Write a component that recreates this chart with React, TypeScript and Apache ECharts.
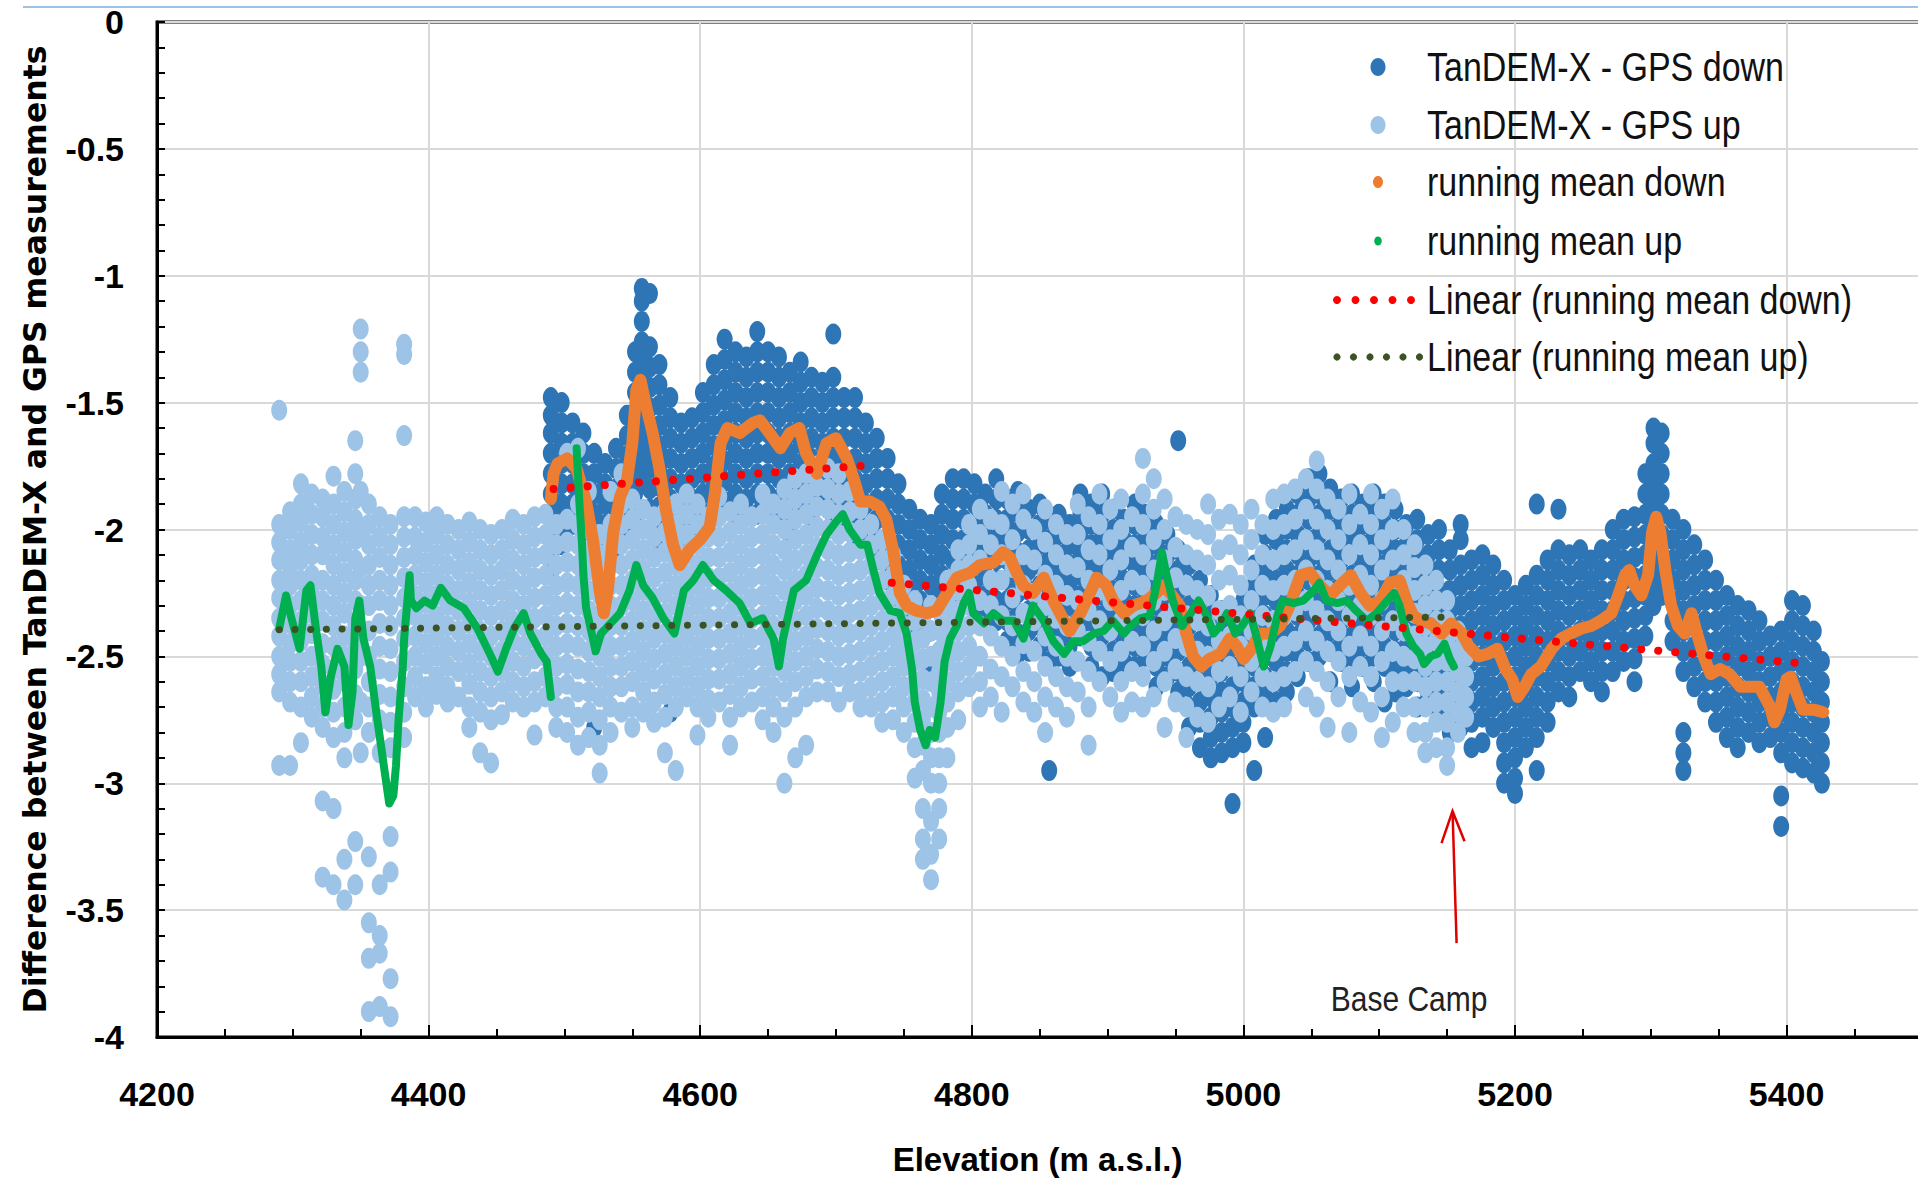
import React, { useEffect, useRef } from "react";
import * as echarts from "echarts";

// ---------- axes ----------
const X_MIN = 4200;
const X_MAX = 5600;
const X_STEP = 200;
const Y_MIN = -4;
const Y_MAX = 0;
const Y_STEP = 0.5;

const X_TITLE = "Elevation (m a.s.l.)";
const Y_TITLE = "Difference between TanDEM-X and GPS measurements";

const NAMES = [
  "TanDEM-X - GPS down",
  "TanDEM-X - GPS up",
  "running mean down",
  "running mean up",
  "Linear (running mean down)",
  "Linear (running mean up)",
];

// ---------- TanDEM-X - GPS down: [elevation, [differences at that elevation]] ----------
const downCols: [number, number[]][] = [
  [4490, [-1.48, -1.55, -1.62, -1.7, -1.78, -1.86, -1.94, -2.02, -2.1, -2.17]],
  [4498, [-1.5, -1.58, -1.66, -1.74, -1.82, -1.9, -1.98, -2.06]],
  [4506, [-1.58, -1.66, -1.74, -1.82, -1.9, -1.98]],
  [4514, [-1.62, -1.7, -1.78, -1.86, -1.94, -2.02]],
  [4522, [-1.7, -1.78, -1.86, -1.94, -2.02, -2.1, -2.78]],
  [4530, [-1.74, -1.82, -1.9, -1.98, -2.06]],
  [4538, [-1.68, -1.76, -1.84, -1.92, -2.0, -2.08]],
  [4546, [-1.55, -1.63, -1.71, -1.79, -1.87, -1.95, -2.03]],
  [4552, [-1.3, -1.38, -1.46, -1.54, -1.62, -1.7, -1.78, -1.86, -1.94]],
  [4557, [-1.05, -1.1, -1.18, -1.26, -1.34, -1.42, -1.5, -1.58, -1.66, -1.74, -1.82]],
  [4563, [-1.07, -1.28, -1.36, -1.44, -1.52, -1.6, -1.68, -1.76, -1.84, -1.92]],
  [4570, [-1.35, -1.43, -1.51, -1.59, -1.67, -1.75, -1.83, -1.91, -1.99, -2.06]],
  [4578, [-1.48, -1.56, -1.64, -1.72, -1.8, -1.88, -1.96, -2.04, -2.72]],
  [4586, [-1.58, -1.66, -1.74, -1.82, -1.9, -1.98, -2.06]],
  [4594, [-1.56, -1.64, -1.72, -1.8, -1.88, -1.96, -2.04]],
  [4602, [-1.46, -1.54, -1.62, -1.7, -1.78, -1.86, -1.94]],
  [4610, [-1.35, -1.43, -1.51, -1.59, -1.67, -1.75, -1.83, -1.91]],
  [4618, [-1.25, -1.33, -1.41, -1.49, -1.57, -1.65, -1.73, -1.81, -1.89]],
  [4626, [-1.3, -1.38, -1.46, -1.54, -1.62, -1.7, -1.78, -1.86, -1.94]],
  [4634, [-1.32, -1.4, -1.48, -1.56, -1.64, -1.72, -1.8, -1.88]],
  [4642, [-1.22, -1.3, -1.38, -1.46, -1.54, -1.62, -1.7, -1.78, -1.86, -1.94]],
  [4650, [-1.3, -1.38, -1.46, -1.54, -1.62, -1.7, -1.78, -1.86, -1.94]],
  [4658, [-1.32, -1.4, -1.48, -1.56, -1.64, -1.72, -1.8, -1.88, -1.96]],
  [4666, [-1.38, -1.46, -1.54, -1.62, -1.7, -1.78, -1.86, -1.94, -2.02]],
  [4674, [-1.34, -1.42, -1.5, -1.58, -1.66, -1.74, -1.82, -1.9]],
  [4682, [-1.4, -1.48, -1.56, -1.64, -1.72, -1.8, -1.88, -1.96]],
  [4690, [-1.42, -1.5, -1.58, -1.66, -1.74, -1.82, -1.9]],
  [4698, [-1.23, -1.4, -1.48, -1.56, -1.64, -1.72, -1.8, -1.88, -1.96]],
  [4706, [-1.48, -1.56, -1.64, -1.72, -1.8, -1.88, -1.96]],
  [4714, [-1.48, -1.56, -1.64, -1.72, -1.8, -1.88, -1.96, -2.04]],
  [4722, [-1.58, -1.66, -1.74, -1.82, -1.9, -1.98, -2.06]],
  [4730, [-1.64, -1.72, -1.8, -1.88, -1.96, -2.04, -2.12]],
  [4738, [-1.72, -1.8, -1.88, -1.96, -2.04, -2.12, -2.2]],
  [4746, [-1.82, -1.9, -1.98, -2.06, -2.14, -2.22, -2.3]],
  [4754, [-1.92, -2.0, -2.08, -2.16, -2.24, -2.32, -2.4]],
  [4762, [-1.96, -2.04, -2.12, -2.2, -2.28, -2.36]],
  [4770, [-1.98, -2.06, -2.14, -2.22, -2.3, -2.4, -2.55]],
  [4778, [-1.86, -1.94, -2.02, -2.1, -2.18, -2.26, -2.34]],
  [4786, [-1.8, -1.88, -1.96, -2.04, -2.12, -2.2, -2.28]],
  [4794, [-1.8, -1.88, -1.96, -2.04, -2.12, -2.2]],
  [4802, [-1.82, -1.9, -1.98, -2.06, -2.14, -2.22, -2.3]],
  [4810, [-1.86, -1.94, -2.02, -2.1, -2.18, -2.26, -2.34]],
  [4818, [-1.8, -1.88, -1.96, -2.04, -2.12, -2.2, -2.28, -2.36]],
  [4826, [-1.88, -1.96, -2.04, -2.12, -2.2, -2.28, -2.36, -2.44]],
  [4834, [-1.85, -1.93, -2.01, -2.09, -2.17, -2.25, -2.33, -2.41, -2.49]],
  [4842, [-1.92, -2.0, -2.08, -2.16, -2.24, -2.32, -2.4, -2.48]],
  [4850, [-1.9, -1.98, -2.06, -2.14, -2.22, -2.3, -2.38, -2.46]],
  [4857, [-1.96, -2.04, -2.12, -2.2, -2.28, -2.36, -2.44, -2.52, -2.95]],
  [4864, [-1.94, -2.02, -2.1, -2.18, -2.26, -2.34, -2.42, -2.5]],
  [4872, [-1.98, -2.06, -2.14, -2.22, -2.3, -2.38, -2.46, -2.54]],
  [4880, [-1.86, -1.94, -2.02, -2.1, -2.18, -2.26, -2.34, -2.42]],
  [4888, [-1.9, -1.98, -2.06, -2.14, -2.22, -2.3, -2.38, -2.46, -2.54]],
  [4896, [-1.86, -1.94, -2.02, -2.1, -2.18, -2.26, -2.34, -2.42, -2.58]],
  [4904, [-1.92, -2.0, -2.08, -2.16, -2.24, -2.32, -2.4, -2.48, -2.56]],
  [4912, [-1.96, -2.04, -2.12, -2.2, -2.28, -2.36, -2.44, -2.52]],
  [4920, [-1.9, -1.98, -2.06, -2.14, -2.22, -2.3, -2.38, -2.46, -2.54]],
  [4928, [-1.94, -2.02, -2.1, -2.18, -2.26, -2.34, -2.42, -2.5]],
  [4936, [-1.98, -2.06, -2.14, -2.22, -2.3, -2.38, -2.46, -2.54, -2.62]],
  [4944, [-2.02, -2.1, -2.18, -2.26, -2.34, -2.42, -2.5, -2.58]],
  [4952, [-1.65, -2.08, -2.16, -2.24, -2.32, -2.4, -2.48, -2.56, -2.64]],
  [4960, [-2.14, -2.22, -2.3, -2.38, -2.46, -2.54, -2.62, -2.7, -2.78]],
  [4968, [-2.2, -2.28, -2.36, -2.44, -2.52, -2.6, -2.68, -2.76, -2.86]],
  [4976, [-2.26, -2.34, -2.42, -2.5, -2.58, -2.66, -2.74, -2.82, -2.9]],
  [4984, [-2.32, -2.4, -2.48, -2.56, -2.64, -2.72, -2.8, -2.88]],
  [4992, [-2.38, -2.46, -2.54, -2.62, -2.7, -2.78, -2.86, -3.08]],
  [5000, [-2.28, -2.36, -2.44, -2.52, -2.6, -2.68, -2.76, -2.84]],
  [5008, [-2.14, -2.22, -2.3, -2.38, -2.46, -2.54, -2.62, -2.7, -2.95]],
  [5016, [-2.02, -2.1, -2.18, -2.26, -2.34, -2.42, -2.5, -2.58, -2.66, -2.82]],
  [5024, [-1.96, -2.04, -2.12, -2.2, -2.28, -2.36, -2.44, -2.52, -2.6, -2.68]],
  [5032, [-1.92, -2.0, -2.08, -2.16, -2.24, -2.32, -2.4, -2.48, -2.56, -2.64]],
  [5040, [-1.86, -1.94, -2.02, -2.1, -2.18, -2.26, -2.34, -2.42, -2.5, -2.58]],
  [5048, [-1.8, -1.88, -1.96, -2.04, -2.12, -2.2, -2.28, -2.36, -2.44, -2.52]],
  [5056, [-1.78, -1.86, -1.94, -2.02, -2.1, -2.18, -2.26, -2.34, -2.42, -2.5]],
  [5064, [-1.84, -1.92, -2.0, -2.08, -2.16, -2.24, -2.32, -2.4, -2.48, -2.6]],
  [5072, [-1.88, -1.96, -2.04, -2.12, -2.2, -2.28, -2.36, -2.44, -2.52]],
  [5080, [-1.86, -1.94, -2.02, -2.1, -2.18, -2.26, -2.34, -2.42, -2.5, -2.62]],
  [5088, [-1.9, -1.98, -2.06, -2.14, -2.22, -2.3, -2.38, -2.46, -2.54]],
  [5096, [-1.86, -1.94, -2.02, -2.1, -2.18, -2.26, -2.34, -2.42, -2.5, -2.6]],
  [5104, [-1.9, -1.98, -2.06, -2.14, -2.22, -2.3, -2.38, -2.46, -2.54, -2.68]],
  [5112, [-1.92, -2.0, -2.08, -2.16, -2.24, -2.32, -2.4, -2.48, -2.56, -2.64]],
  [5120, [-1.98, -2.06, -2.14, -2.22, -2.3, -2.38, -2.46, -2.54, -2.62]],
  [5128, [-1.96, -2.04, -2.12, -2.2, -2.28, -2.36, -2.44, -2.52, -2.6, -2.7]],
  [5136, [-2.02, -2.1, -2.18, -2.26, -2.34, -2.42, -2.5, -2.58, -2.66]],
  [5144, [-2.0, -2.08, -2.16, -2.24, -2.32, -2.4, -2.48, -2.56, -2.64, -2.72]],
  [5152, [-2.08, -2.16, -2.24, -2.32, -2.4, -2.48, -2.56, -2.64, -2.72, -2.8]],
  [5160, [-1.98, -2.04, -2.14, -2.22, -2.3, -2.38, -2.46, -2.54, -2.62, -2.7, -2.78]],
  [5168, [-2.12, -2.2, -2.28, -2.36, -2.44, -2.52, -2.6, -2.68, -2.76, -2.86]],
  [5176, [-2.1, -2.18, -2.26, -2.34, -2.42, -2.5, -2.58, -2.66, -2.74, -2.84]],
  [5184, [-2.14, -2.22, -2.3, -2.38, -2.46, -2.54, -2.62, -2.7, -2.78]],
  [5192, [-2.2, -2.28, -2.36, -2.44, -2.52, -2.6, -2.68, -2.76, -2.84, -2.92, -3.0]],
  [5200, [-2.26, -2.34, -2.42, -2.5, -2.58, -2.66, -2.74, -2.82, -2.9, -2.98, -3.04]],
  [5208, [-2.22, -2.3, -2.38, -2.46, -2.54, -2.62, -2.7, -2.78, -2.86]],
  [5216, [-1.9, -2.18, -2.26, -2.34, -2.42, -2.5, -2.58, -2.66, -2.74, -2.82, -2.95]],
  [5224, [-2.12, -2.2, -2.28, -2.36, -2.44, -2.52, -2.6, -2.68, -2.76]],
  [5232, [-1.92, -2.08, -2.16, -2.24, -2.32, -2.4, -2.48, -2.56, -2.64]],
  [5240, [-2.1, -2.18, -2.26, -2.34, -2.42, -2.5, -2.58, -2.66]],
  [5248, [-2.08, -2.16, -2.24, -2.32, -2.4, -2.48, -2.56]],
  [5256, [-2.12, -2.2, -2.28, -2.36, -2.44, -2.52, -2.6]],
  [5264, [-2.08, -2.16, -2.24, -2.32, -2.4, -2.48, -2.56, -2.64]],
  [5272, [-2.0, -2.08, -2.16, -2.24, -2.32, -2.4, -2.48, -2.56]],
  [5280, [-1.96, -2.04, -2.12, -2.2, -2.28, -2.36, -2.44, -2.52]],
  [5288, [-1.95, -2.03, -2.11, -2.19, -2.27, -2.35, -2.43, -2.51, -2.6]],
  [5296, [-1.78, -1.86, -1.94, -2.02, -2.1, -2.18, -2.26, -2.34, -2.42]],
  [5302, [-1.6, -1.66, -1.74, -1.82, -1.9, -1.98, -2.06, -2.14, -2.22, -2.3]],
  [5308, [-1.62, -1.7, -1.78, -1.86, -1.94, -2.02, -2.1, -2.18, -2.26]],
  [5316, [-1.96, -2.04, -2.12, -2.2, -2.28, -2.36, -2.44]],
  [5324, [-2.0, -2.08, -2.16, -2.24, -2.32, -2.4, -2.48, -2.56, -2.8, -2.88, -2.95]],
  [5332, [-2.06, -2.14, -2.22, -2.3, -2.38, -2.46, -2.54, -2.62]],
  [5340, [-2.12, -2.2, -2.28, -2.36, -2.44, -2.52, -2.6, -2.68]],
  [5348, [-2.2, -2.28, -2.36, -2.44, -2.52, -2.6, -2.68, -2.76]],
  [5356, [-2.26, -2.34, -2.42, -2.5, -2.58, -2.66, -2.74, -2.82]],
  [5364, [-2.3, -2.38, -2.46, -2.54, -2.62, -2.7, -2.78, -2.86]],
  [5372, [-2.32, -2.4, -2.48, -2.56, -2.64, -2.72, -2.8]],
  [5380, [-2.36, -2.44, -2.52, -2.6, -2.68, -2.76, -2.84]],
  [5388, [-2.42, -2.5, -2.58, -2.66, -2.74, -2.82]],
  [5396, [-2.4, -2.48, -2.56, -2.64, -2.72, -2.8, -2.88, -3.05, -3.17]],
  [5404, [-2.28, -2.36, -2.44, -2.52, -2.6, -2.68, -2.76, -2.84, -2.92]],
  [5412, [-2.3, -2.38, -2.46, -2.54, -2.62, -2.7, -2.78, -2.86, -2.94]],
  [5420, [-2.4, -2.48, -2.56, -2.64, -2.72, -2.8, -2.88, -2.96]],
  [5426, [-2.52, -2.6, -2.68, -2.76, -2.84, -2.92, -3.0]],
];

// ---------- TanDEM-X - GPS up ----------
const upCols: [number, number[]][] = [
  [4290, [-1.53, -1.98, -2.05, -2.12, -2.2, -2.27, -2.35, -2.42, -2.5, -2.57, -2.64, -2.93]],
  [4298, [-1.93, -2.0, -2.08, -2.15, -2.22, -2.3, -2.37, -2.45, -2.52, -2.6, -2.68, -2.93]],
  [4306, [-1.82, -1.9, -1.97, -2.05, -2.12, -2.2, -2.28, -2.36, -2.44, -2.52, -2.6, -2.7, -2.84]],
  [4314, [-1.86, -1.94, -2.02, -2.1, -2.18, -2.25, -2.33, -2.41, -2.5, -2.58, -2.66, -2.74]],
  [4322, [-1.88, -1.95, -2.03, -2.1, -2.2, -2.28, -2.36, -2.45, -2.53, -2.61, -2.7, -2.78, -3.07, -3.37]],
  [4330, [-1.79, -1.9, -1.98, -2.06, -2.14, -2.22, -2.3, -2.38, -2.46, -2.55, -2.63, -2.72, -2.82, -3.1, -3.4]],
  [4338, [-1.85, -1.93, -2.01, -2.09, -2.17, -2.25, -2.33, -2.42, -2.5, -2.6, -2.7, -2.8, -2.9, -3.3, -3.46]],
  [4346, [-1.65, -1.78, -1.88, -1.96, -2.04, -2.12, -2.2, -2.28, -2.37, -2.45, -2.55, -2.65, -2.75, -3.23, -3.4]],
  [4350, [-1.21, -1.3, -1.38, -1.85, -2.0, -2.15, -2.3, -2.5, -2.68, -2.88]],
  [4356, [-1.9, -1.98, -2.06, -2.14, -2.22, -2.3, -2.4, -2.5, -2.6, -2.7, -2.8, -3.29, -3.55, -3.69, -3.9]],
  [4364, [-1.95, -2.03, -2.11, -2.2, -2.28, -2.37, -2.46, -2.55, -2.65, -2.75, -2.88, -3.4, -3.6, -3.67, -3.88]],
  [4372, [-1.98, -2.06, -2.14, -2.22, -2.3, -2.38, -2.47, -2.56, -2.66, -2.76, -2.86, -3.21, -3.35, -3.77, -3.92]],
  [4382, [-1.27, -1.31, -1.63, -1.95, -2.03, -2.11, -2.19, -2.27, -2.35, -2.43, -2.52, -2.62, -2.72, -2.82]],
  [4390, [-1.95, -2.03, -2.1, -2.18, -2.26, -2.34, -2.42, -2.5, -2.58, -2.66]],
  [4398, [-1.97, -2.05, -2.13, -2.21, -2.29, -2.37, -2.45, -2.53, -2.62, -2.7]],
  [4406, [-1.95, -2.02, -2.1, -2.18, -2.26, -2.34, -2.42, -2.5, -2.58, -2.65]],
  [4414, [-1.98, -2.06, -2.14, -2.22, -2.3, -2.38, -2.46, -2.54, -2.62, -2.68]],
  [4422, [-2.0, -2.08, -2.16, -2.24, -2.32, -2.4, -2.48, -2.56, -2.66]],
  [4430, [-1.97, -2.05, -2.13, -2.21, -2.29, -2.37, -2.45, -2.53, -2.61, -2.7, -2.78]],
  [4438, [-2.0, -2.08, -2.16, -2.24, -2.32, -2.4, -2.48, -2.56, -2.64, -2.72, -2.88]],
  [4446, [-2.02, -2.1, -2.18, -2.26, -2.34, -2.42, -2.5, -2.58, -2.66, -2.75, -2.92]],
  [4454, [-2.0, -2.08, -2.16, -2.24, -2.32, -2.4, -2.48, -2.56, -2.64, -2.73]],
  [4462, [-1.96, -2.04, -2.12, -2.2, -2.28, -2.36, -2.44, -2.52, -2.6, -2.68]],
  [4470, [-1.98, -2.06, -2.14, -2.22, -2.3, -2.38, -2.46, -2.54, -2.62, -2.7]],
  [4478, [-1.95, -2.03, -2.11, -2.19, -2.27, -2.35, -2.43, -2.51, -2.6, -2.68, -2.81]],
  [4486, [-1.94, -2.02, -2.1, -2.18, -2.26, -2.34, -2.42, -2.5, -2.58, -2.66]],
  [4494, [-1.98, -2.06, -2.14, -2.22, -2.3, -2.38, -2.46, -2.54, -2.62, -2.7, -2.78]],
  [4502, [-1.7, -1.96, -2.05, -2.13, -2.21, -2.29, -2.37, -2.45, -2.53, -2.61, -2.7, -2.8]],
  [4510, [-1.68, -1.9, -1.98, -2.06, -2.14, -2.22, -2.3, -2.38, -2.46, -2.55, -2.64, -2.74, -2.85]],
  [4518, [-1.85, -2.0, -2.08, -2.16, -2.24, -2.32, -2.4, -2.48, -2.56, -2.64, -2.72, -2.82]],
  [4526, [-2.02, -2.1, -2.18, -2.26, -2.34, -2.42, -2.5, -2.58, -2.66, -2.75, -2.85, -2.96]],
  [4534, [-1.85, -1.98, -2.06, -2.14, -2.22, -2.3, -2.38, -2.46, -2.54, -2.62, -2.7, -2.8]],
  [4542, [-1.78, -1.9, -1.98, -2.06, -2.14, -2.22, -2.3, -2.38, -2.46, -2.54, -2.62, -2.72]],
  [4550, [-1.88, -1.96, -2.04, -2.12, -2.2, -2.28, -2.36, -2.44, -2.52, -2.6, -2.7, -2.78]],
  [4558, [-1.92, -2.0, -2.08, -2.16, -2.24, -2.32, -2.4, -2.48, -2.56, -2.64, -2.72]],
  [4566, [-1.95, -2.03, -2.11, -2.19, -2.27, -2.35, -2.43, -2.51, -2.59, -2.68, -2.76]],
  [4574, [-1.93, -2.01, -2.09, -2.17, -2.25, -2.33, -2.41, -2.49, -2.57, -2.65, -2.74, -2.88]],
  [4582, [-1.9, -1.98, -2.06, -2.14, -2.22, -2.3, -2.38, -2.46, -2.54, -2.62, -2.7, -2.95]],
  [4590, [-1.86, -1.94, -2.02, -2.1, -2.18, -2.26, -2.34, -2.42, -2.5, -2.58, -2.66]],
  [4598, [-1.9, -1.98, -2.06, -2.14, -2.22, -2.3, -2.38, -2.46, -2.54, -2.62, -2.7, -2.81]],
  [4606, [-1.95, -2.03, -2.11, -2.19, -2.27, -2.35, -2.43, -2.51, -2.59, -2.67, -2.74]],
  [4614, [-1.87, -1.95, -2.03, -2.11, -2.19, -2.27, -2.35, -2.43, -2.51, -2.59, -2.68]],
  [4622, [-1.93, -2.01, -2.09, -2.17, -2.25, -2.33, -2.41, -2.49, -2.57, -2.65, -2.74, -2.85]],
  [4630, [-1.9, -1.98, -2.06, -2.14, -2.22, -2.3, -2.38, -2.46, -2.54, -2.62, -2.7]],
  [4638, [-1.95, -2.03, -2.11, -2.19, -2.27, -2.35, -2.43, -2.51, -2.59, -2.68]],
  [4646, [-1.86, -1.94, -2.02, -2.1, -2.18, -2.26, -2.34, -2.42, -2.5, -2.58, -2.66, -2.75]],
  [4654, [-1.9, -1.98, -2.06, -2.14, -2.22, -2.3, -2.38, -2.46, -2.54, -2.62, -2.7, -2.8]],
  [4662, [-1.84, -1.92, -2.0, -2.08, -2.16, -2.24, -2.32, -2.4, -2.48, -2.56, -2.64, -2.74, -3.0]],
  [4670, [-1.8, -1.88, -1.96, -2.04, -2.12, -2.2, -2.28, -2.36, -2.44, -2.52, -2.6, -2.7, -2.9]],
  [4678, [-1.78, -1.86, -1.94, -2.02, -2.1, -2.18, -2.26, -2.34, -2.42, -2.5, -2.58, -2.66, -2.85]],
  [4686, [-1.75, -1.83, -1.91, -1.99, -2.07, -2.15, -2.23, -2.31, -2.39, -2.47, -2.55, -2.64]],
  [4694, [-1.76, -1.84, -1.92, -2.0, -2.08, -2.16, -2.24, -2.32, -2.4, -2.48, -2.56, -2.64]],
  [4702, [-1.78, -1.86, -1.94, -2.02, -2.1, -2.18, -2.26, -2.34, -2.42, -2.5, -2.58, -2.68]],
  [4710, [-1.85, -1.93, -2.01, -2.09, -2.17, -2.25, -2.33, -2.41, -2.49, -2.57, -2.64]],
  [4718, [-1.92, -2.0, -2.08, -2.16, -2.24, -2.32, -2.4, -2.48, -2.56, -2.64, -2.7]],
  [4726, [-1.98, -2.06, -2.14, -2.22, -2.3, -2.38, -2.46, -2.54, -2.62, -2.7]],
  [4734, [-2.04, -2.12, -2.2, -2.28, -2.36, -2.44, -2.52, -2.6, -2.68, -2.76]],
  [4742, [-2.1, -2.18, -2.26, -2.34, -2.42, -2.5, -2.58, -2.66, -2.75]],
  [4750, [-2.22, -2.3, -2.38, -2.46, -2.54, -2.62, -2.7, -2.8]],
  [4758, [-2.28, -2.36, -2.44, -2.52, -2.6, -2.68, -2.76, -2.86, -2.98]],
  [4764, [-2.35, -2.43, -2.51, -2.59, -2.67, -2.75, -2.85, -2.95, -3.1, -3.22, -3.3]],
  [4770, [-2.3, -2.4, -2.5, -2.6, -2.7, -2.8, -2.9, -3.0, -3.15, -3.28, -3.38]],
  [4776, [-2.32, -2.4, -2.48, -2.56, -2.64, -2.72, -2.8, -2.9, -3.0, -3.1, -3.22]],
  [4782, [-2.2, -2.28, -2.36, -2.44, -2.52, -2.6, -2.68, -2.78, -2.9]],
  [4790, [-2.08, -2.16, -2.24, -2.32, -2.4, -2.48, -2.56, -2.64, -2.75]],
  [4798, [-1.98, -2.06, -2.14, -2.22, -2.3, -2.38, -2.46, -2.54, -2.62]],
  [4806, [-1.92, -2.02, -2.12, -2.28, -2.38, -2.5, -2.6, -2.7]],
  [4814, [-1.96, -2.06, -2.2, -2.3, -2.42, -2.55, -2.66]],
  [4822, [-1.85, -1.98, -2.1, -2.2, -2.34, -2.46, -2.58, -2.72]],
  [4830, [-1.9, -2.04, -2.15, -2.27, -2.38, -2.5, -2.62]],
  [4838, [-1.86, -1.96, -2.1, -2.22, -2.33, -2.45, -2.56, -2.68]],
  [4846, [-2.0, -2.12, -2.25, -2.36, -2.48, -2.6, -2.72]],
  [4854, [-1.92, -2.05, -2.18, -2.3, -2.42, -2.54, -2.66, -2.8]],
  [4862, [-1.98, -2.1, -2.22, -2.35, -2.46, -2.58, -2.7]],
  [4870, [-2.02, -2.14, -2.26, -2.38, -2.5, -2.62, -2.74]],
  [4878, [-1.9, -2.02, -2.15, -2.28, -2.4, -2.52, -2.64]],
  [4886, [-1.95, -2.08, -2.2, -2.32, -2.44, -2.56, -2.7, -2.85]],
  [4894, [-1.86, -1.98, -2.1, -2.24, -2.36, -2.48, -2.6]],
  [4902, [-1.92, -2.04, -2.16, -2.28, -2.4, -2.52, -2.66]],
  [4910, [-1.88, -2.0, -2.12, -2.24, -2.36, -2.48, -2.6, -2.72]],
  [4918, [-1.95, -2.07, -2.2, -2.32, -2.44, -2.56, -2.68]],
  [4926, [-1.72, -1.86, -1.98, -2.1, -2.22, -2.34, -2.46, -2.58, -2.7]],
  [4934, [-1.8, -1.92, -2.04, -2.16, -2.28, -2.4, -2.52, -2.66]],
  [4942, [-1.88, -2.0, -2.12, -2.24, -2.36, -2.48, -2.6, -2.78]],
  [4950, [-1.95, -2.07, -2.19, -2.31, -2.43, -2.55, -2.68]],
  [4958, [-1.98, -2.1, -2.22, -2.34, -2.46, -2.58, -2.7, -2.82]],
  [4966, [-2.0, -2.12, -2.24, -2.36, -2.48, -2.6, -2.74]],
  [4974, [-1.9, -2.02, -2.14, -2.26, -2.38, -2.5, -2.62, -2.76]],
  [4982, [-1.96, -2.08, -2.2, -2.32, -2.44, -2.56, -2.7]],
  [4990, [-1.94, -2.06, -2.18, -2.3, -2.42, -2.54, -2.66]],
  [4998, [-1.98, -2.1, -2.22, -2.34, -2.46, -2.58, -2.72]],
  [5006, [-1.92, -2.04, -2.16, -2.28, -2.4, -2.52, -2.64]],
  [5014, [-1.98, -2.1, -2.22, -2.34, -2.46, -2.58, -2.7]],
  [5022, [-1.88, -2.0, -2.12, -2.24, -2.36, -2.48, -2.6, -2.72]],
  [5030, [-1.86, -1.98, -2.1, -2.22, -2.34, -2.46, -2.58, -2.7]],
  [5038, [-1.84, -1.96, -2.08, -2.2, -2.32, -2.44, -2.56]],
  [5046, [-1.8, -1.92, -2.04, -2.16, -2.28, -2.4, -2.52, -2.66]],
  [5054, [-1.73, -1.84, -1.96, -2.08, -2.2, -2.32, -2.44, -2.56, -2.7]],
  [5062, [-1.88, -2.0, -2.12, -2.24, -2.36, -2.48, -2.6, -2.78]],
  [5070, [-1.92, -2.04, -2.16, -2.28, -2.4, -2.52, -2.66]],
  [5078, [-1.86, -1.98, -2.1, -2.22, -2.34, -2.46, -2.58, -2.8]],
  [5086, [-1.94, -2.06, -2.18, -2.3, -2.42, -2.54, -2.68]],
  [5094, [-1.86, -1.98, -2.1, -2.22, -2.34, -2.46, -2.58, -2.72]],
  [5102, [-1.92, -2.04, -2.16, -2.28, -2.4, -2.52, -2.66, -2.82]],
  [5110, [-1.88, -2.0, -2.12, -2.24, -2.36, -2.48, -2.6, -2.76]],
  [5118, [-2.0, -2.1, -2.2, -2.3, -2.4, -2.5, -2.6, -2.7]],
  [5126, [-2.06, -2.15, -2.24, -2.33, -2.42, -2.51, -2.6, -2.7, -2.8]],
  [5134, [-2.14, -2.22, -2.3, -2.38, -2.46, -2.54, -2.62, -2.7, -2.8, -2.88]],
  [5142, [-2.2, -2.28, -2.36, -2.44, -2.52, -2.6, -2.68, -2.76, -2.86]],
  [5150, [-2.28, -2.36, -2.44, -2.52, -2.6, -2.68, -2.76, -2.86, -2.93]],
  [5158, [-2.4, -2.48, -2.56, -2.64, -2.72, -2.8]],
  [5164, [-2.5, -2.58, -2.66, -2.74]],
];

// ---------- running mean down ----------
const meanDown: [number, number][] = [
  [4490, -1.88], [4492, -1.78], [4495, -1.74], [4502, -1.72], [4509, -1.76], [4516, -1.89],
  [4521, -2.04], [4526, -2.24], [4529, -2.33], [4532, -2.24], [4536, -2.01], [4541, -1.87],
  [4546, -1.81], [4550, -1.66], [4553, -1.45], [4556, -1.41], [4560, -1.51], [4565, -1.62],
  [4570, -1.76], [4575, -1.93], [4580, -2.06], [4585, -2.14], [4592, -2.08], [4600, -2.04],
  [4607, -1.99], [4611, -1.85], [4615, -1.66], [4620, -1.6], [4629, -1.62], [4639, -1.58],
  [4644, -1.57], [4651, -1.62], [4659, -1.68], [4666, -1.62], [4673, -1.6], [4678, -1.7],
  [4686, -1.78], [4693, -1.66], [4700, -1.64], [4708, -1.72], [4713, -1.8], [4718, -1.89],
  [4725, -1.89], [4732, -1.91], [4737, -1.96], [4742, -2.08], [4747, -2.25], [4752, -2.3],
  [4759, -2.32], [4767, -2.33], [4774, -2.32], [4782, -2.25], [4789, -2.19], [4799, -2.17],
  [4806, -2.14], [4816, -2.13], [4823, -2.09], [4828, -2.11], [4833, -2.17], [4838, -2.22],
  [4845, -2.25], [4853, -2.19], [4860, -2.28], [4868, -2.36], [4872, -2.4], [4880, -2.33],
  [4887, -2.25], [4892, -2.19], [4899, -2.22], [4904, -2.28], [4912, -2.33], [4919, -2.3],
  [4929, -2.28], [4936, -2.25], [4941, -2.22], [4946, -2.25], [4953, -2.3], [4958, -2.41],
  [4963, -2.5], [4969, -2.54], [4975, -2.51], [4983, -2.49], [4990, -2.43], [4995, -2.46],
  [5000, -2.51], [5006, -2.47], [5012, -2.41], [5020, -2.41], [5027, -2.38], [5034, -2.3],
  [5042, -2.18], [5049, -2.17], [5056, -2.22], [5064, -2.26], [5071, -2.22], [5079, -2.18],
  [5086, -2.25], [5093, -2.3], [5101, -2.28], [5108, -2.21], [5115, -2.2], [5120, -2.28],
  [5125, -2.34], [5131, -2.36], [5138, -2.37], [5146, -2.41], [5153, -2.37], [5161, -2.41],
  [5166, -2.46], [5173, -2.5], [5180, -2.49], [5187, -2.47], [5193, -2.55], [5198, -2.59],
  [5202, -2.66], [5207, -2.62], [5212, -2.57], [5219, -2.54], [5227, -2.47], [5234, -2.43],
  [5241, -2.41], [5249, -2.39], [5256, -2.38], [5263, -2.36], [5271, -2.33], [5276, -2.26],
  [5281, -2.18], [5284, -2.16], [5288, -2.22], [5293, -2.26], [5298, -2.18], [5301, -2.01],
  [5304, -1.95], [5307, -2.01], [5311, -2.17], [5315, -2.3], [5320, -2.38], [5325, -2.41],
  [5330, -2.33], [5334, -2.41], [5339, -2.5], [5344, -2.57], [5351, -2.55], [5358, -2.57],
  [5366, -2.62], [5373, -2.62], [5380, -2.62], [5388, -2.7], [5391, -2.76], [5395, -2.71],
  [5400, -2.59], [5403, -2.58], [5407, -2.64], [5412, -2.71], [5420, -2.71], [5427, -2.72],
];

// ---------- running mean up ('-' marks a gap in the record) ----------
const meanUp: [number, number | string][] = [
  [4290, -2.39], [4295, -2.26], [4299, -2.35], [4305, -2.47], [4310, -2.24], [4313, -2.22],
  [4317, -2.39], [4321, -2.54], [4324, -2.72], [4328, -2.58], [4333, -2.47], [4338, -2.54],
  [4341, -2.77], [4344, -2.64], [4346, -2.35], [4349, -2.28], [4352, -2.43], [4357, -2.54],
  [4362, -2.74], [4367, -2.93], [4371, -3.08], [4374, -3.05], [4376, -2.93], [4378, -2.74],
  [4381, -2.54], [4382, -2.43], [4386, -2.18], [4387, -2.28], [4391, -2.31], [4397, -2.28],
  [4403, -2.3], [4409, -2.23], [4416, -2.28], [4426, -2.31], [4436, -2.39], [4446, -2.5],
  [4451, -2.56], [4457, -2.47], [4463, -2.39], [4470, -2.33], [4475, -2.41], [4483, -2.49],
  [4487, -2.52], [4490, -2.66], [4498, "-"], [4509, -1.68], [4511, -1.89], [4513, -2.06],
  [4514, -2.18], [4516, -2.31], [4521, -2.43], [4523, -2.48], [4527, -2.41], [4534, -2.37],
  [4541, -2.33], [4548, -2.24], [4553, -2.14], [4558, -2.22], [4565, -2.27], [4573, -2.35],
  [4581, -2.41], [4588, -2.24], [4595, -2.2], [4602, -2.14], [4610, -2.2], [4619, -2.24],
  [4629, -2.29], [4637, -2.37], [4646, -2.35], [4654, -2.43], [4658, -2.54], [4661, -2.43],
  [4669, -2.24], [4678, -2.2], [4686, -2.1], [4693, -2.02], [4700, -1.97], [4705, -1.94],
  [4710, -2.0], [4718, -2.06], [4723, -2.06], [4728, -2.17], [4732, -2.25], [4740, -2.32],
  [4747, -2.33], [4752, -2.41], [4756, -2.55], [4758, -2.68], [4762, -2.79], [4766, -2.85],
  [4769, -2.79], [4773, -2.82], [4777, -2.68], [4780, -2.52], [4784, -2.43], [4789, -2.38],
  [4794, -2.29], [4798, -2.25], [4801, -2.33], [4809, -2.37], [4816, -2.33], [4823, -2.36],
  [4831, -2.36], [4838, -2.43], [4845, -2.3], [4853, -2.36], [4860, -2.44], [4868, -2.49],
  [4875, -2.44], [4882, -2.44], [4890, -2.41], [4897, -2.4], [4904, -2.36], [4912, -2.41],
  [4917, -2.38], [4924, -2.35], [4931, -2.34], [4936, -2.22], [4940, -2.09], [4943, -2.17],
  [4948, -2.28], [4955, -2.38], [4960, -2.34], [4967, -2.28], [4973, -2.34], [4978, -2.41],
  [4983, -2.38], [4988, -2.33], [4994, -2.41], [4999, -2.38], [5005, -2.33], [5010, -2.43],
  [5015, -2.54], [5020, -2.46], [5025, -2.34], [5029, -2.28], [5037, -2.29], [5044, -2.28],
  [5052, -2.24], [5056, -2.21], [5061, -2.28], [5069, -2.29], [5076, -2.28], [5083, -2.32],
  [5091, -2.36], [5098, -2.33], [5106, -2.28], [5111, -2.25], [5115, -2.3], [5120, -2.41],
  [5125, -2.46], [5130, -2.49], [5133, -2.53], [5138, -2.5], [5143, -2.49], [5148, -2.45],
  [5152, -2.51], [5155, -2.54],
];

// ---------- linear trends ----------
const trendDown: [number, number | string][] = [
  [4492, -1.84], [4729, -1.745], [4735, "-"], [4741, -2.21], [5416, -2.53],
];
const trendUp: [number, number][] = [
  [4290, -2.395], [5155, -2.345],
];

// ---------- annotation ----------
const BASE_CAMP_LABEL = "Base Camp";
const baseCampArrow: [number, number][] = [[5157, -3.63], [5154, -3.11]];
const baseCampText: [number, number] = [5122, -3.85];

const COLORS = ["#2E75B6", "#9DC3E6", "#ED7D31", "#00B050", "#FF0000", "#3B5323"];
const SANS = '"Liberation Sans Narrow", "Liberation Sans", Arial, sans-serif';

export default function App() {
  const ref = useRef<HTMLDivElement>(null);

  useEffect(() => {
    document.body.style.margin = "0";
    const chart = echarts.init(ref.current!, null, { renderer: "svg" });
    const flatten = (cols: [number, number[]][]) =>
      cols.flatMap(([x, ys]) => ys.map((y) => [x, y]));

    const gridLeft = 157;
    const gridTop = 22;
    const pxPerX = 271.6 / 200;
    const gridWidth = (X_MAX - X_MIN) * pxPerX;
    const gridHeight = 1015;
    const visibleCenter = (gridLeft + 1918) / 2;

    const scatterStyle = (color: string) => ({
      color,
      opacity: 1,
      borderWidth: 0,
      borderColor: color,
    });

    const option: any = {
      animation: false,
      backgroundColor: "#fff",
      grid: {
        left: gridLeft,
        top: gridTop,
        width: gridWidth,
        height: gridHeight,
        outerBoundsMode: "none",
        containLabel: false,
        show: true,
        borderColor: "#000",
        borderWidth: 3,
        backgroundColor: "transparent",
      },
      xAxis: {
        type: "value",
        min: X_MIN,
        max: X_MAX,
        interval: X_STEP,
        axisLine: { show: true, onZero: false, lineStyle: { color: "#000", width: 3 } },
        axisTick: { show: true, inside: true, length: 12, lineStyle: { color: "#000", width: 2 } },
        minorTick: { show: true, splitNumber: 4, length: 8, lineStyle: { color: "#000", width: 2 } },
        splitLine: { show: true, lineStyle: { color: "#D9D9D9", width: 2 } },
        axisLabel: {
          margin: 40,
          fontSize: 34,
          fontWeight: "bold",
          fontFamily: SANS,
          color: "#000",
          showMaxLabel: false,
          formatter: (v: number) => String(v),
        },
        name: X_TITLE,
        nameLocation: "middle",
        nameGap: 106,
        nameTextStyle: {
          fontSize: 33,
          fontWeight: "bold",
          fontFamily: SANS,
          color: "#000",
          padding: [0, Math.max(0, 2 * (gridLeft + gridWidth / 2 - visibleCenter)), 0, 0],
        },
      },
      yAxis: {
        type: "value",
        min: Y_MIN,
        max: Y_MAX,
        interval: Y_STEP,
        axisLine: { show: true, onZero: false, lineStyle: { color: "#000", width: 3 } },
        axisTick: { show: true, inside: true, length: 8, lineStyle: { color: "#000", width: 2 } },
        minorTick: { show: true, splitNumber: 5, length: 8, lineStyle: { color: "#000", width: 2 } },
        splitLine: { show: true, lineStyle: { color: "#D9D9D9", width: 2 } },
        axisLabel: {
          margin: 33,
          fontSize: 34,
          fontWeight: "bold",
          fontFamily: SANS,
          color: "#000",
          formatter: (v: number) => String(v),
        },
        name: Y_TITLE,
        nameLocation: "middle",
        nameGap: 106,
        nameTextStyle: {
          fontSize: 31.5,
          fontWeight: "bold",
          fontFamily: '"DejaVu Sans", Verdana, sans-serif',
          color: "#000",
        },
      },
      series: [
        {
          name: NAMES[0],
          type: "scatter",
          data: flatten(downCols),
          symbol: "circle",
          symbolSize: [16, 21],
          itemStyle: scatterStyle(COLORS[0]),
          emphasis: { disabled: true },
          silent: true,
          progressive: 0,
          z: 2,
        },
        {
          name: NAMES[1],
          type: "scatter",
          data: flatten(upCols),
          symbol: "circle",
          symbolSize: [16, 21],
          itemStyle: scatterStyle(COLORS[1]),
          emphasis: { disabled: true },
          silent: true,
          progressive: 0,
          z: 3,
        },
        {
          name: NAMES[2],
          type: "line",
          data: meanDown,
          showSymbol: false,
          symbol: "none",
          lineStyle: { color: COLORS[2], width: 12, cap: "round", join: "round" },
          silent: true,
          z: 4,
        },
        {
          name: NAMES[3],
          type: "line",
          data: meanUp,
          showSymbol: false,
          symbol: "none",
          connectNulls: false,
          lineStyle: { color: COLORS[3], width: 8, cap: "round", join: "round" },
          silent: true,
          z: 5,
        },
        {
          name: NAMES[4],
          type: "line",
          data: trendDown,
          showSymbol: false,
          symbol: "none",
          lineStyle: { color: COLORS[4], width: 8, type: [0.1, 17], cap: "round" },
          silent: true,
          z: 6,
        },
        {
          name: NAMES[5],
          type: "line",
          data: trendUp,
          showSymbol: false,
          symbol: "none",
          lineStyle: { color: COLORS[5], width: 7, type: [0.1, 15.6], cap: "round" },
          silent: true,
          z: 7,
        },
      ],
    };
    chart.setOption(option);

    const toPx = (p: [number, number]) => chart.convertToPixel({ gridIndex: 0 }, p) as number[];
    const tail = toPx(baseCampArrow[0]);
    const tip = toPx(baseCampArrow[1]);
    const lbl = toPx(baseCampText);

    // legend drawn with graphic elements
    const lgX = 1378;
    const lgTextX = 1427;
    const rowsY = [67, 125, 182, 241, 300, 357];
    const legendEls: any[] = [];
    legendEls.push({ type: "ellipse", shape: { cx: lgX, cy: rowsY[0], rx: 7.5, ry: 9 }, style: { fill: COLORS[0] } });
    legendEls.push({ type: "ellipse", shape: { cx: lgX, cy: rowsY[1], rx: 7.5, ry: 9 }, style: { fill: COLORS[1] } });
    legendEls.push({ type: "ellipse", shape: { cx: lgX, cy: rowsY[2], rx: 5, ry: 6 }, style: { fill: COLORS[2] } });
    legendEls.push({ type: "ellipse", shape: { cx: lgX, cy: rowsY[3], rx: 3.8, ry: 4.5 }, style: { fill: COLORS[3] } });
    for (let i = 0; i < 5; i++) {
      legendEls.push({ type: "circle", shape: { cx: 1337 + i * 18.5, cy: rowsY[4], r: 4 }, style: { fill: COLORS[4] } });
    }
    for (let i = 0; i < 6; i++) {
      legendEls.push({ type: "circle", shape: { cx: 1337 + i * 16.5, cy: rowsY[5], r: 3.6 }, style: { fill: COLORS[5] } });
    }
    NAMES.forEach((n, i) => {
      legendEls.push({
        type: "text",
        x: lgTextX,
        y: rowsY[i],
        scaleY: 1.18,
        style: {
          text: n,
          x: 0,
          y: 0,
          font: `34px ${SANS}`,
          fill: "#111",
          align: "left",
          verticalAlign: "middle",
        },
      });
    });

    chart.setOption({
      graphic: [
        { type: "line", shape: { x1: 23, y1: 7, x2: 1918, y2: 7 }, style: { stroke: "#9DC3E6", lineWidth: 2 } },
        ...legendEls,
        {
          type: "line",
          shape: { x1: tail[0], y1: tail[1], x2: tip[0], y2: tip[1] },
          style: { stroke: "#E00000", lineWidth: 2.5 },
        },
        {
          type: "polyline",
          shape: { points: [[tip[0] - 11, tip[1] + 32], [tip[0], tip[1]], [tip[0] + 12, tip[1] + 30]] },
          style: { stroke: "#E00000", lineWidth: 2.5, fill: null },
        },
        {
          type: "text",
          x: lbl[0],
          y: lbl[1],
          scaleY: 1.18,
          style: {
            text: BASE_CAMP_LABEL,
            x: 0,
            y: 0,
            font: `30px ${SANS}`,
            fill: "#222",
            align: "center",
            verticalAlign: "middle",
          },
        },
      ],
    });

    return () => chart.dispose();
  }, []);

  return (
    <div
      ref={ref}
      style={{ position: "absolute", left: 0, top: 0, width: 1918, height: 1187, background: "#fff" }}
    />
  );
}
